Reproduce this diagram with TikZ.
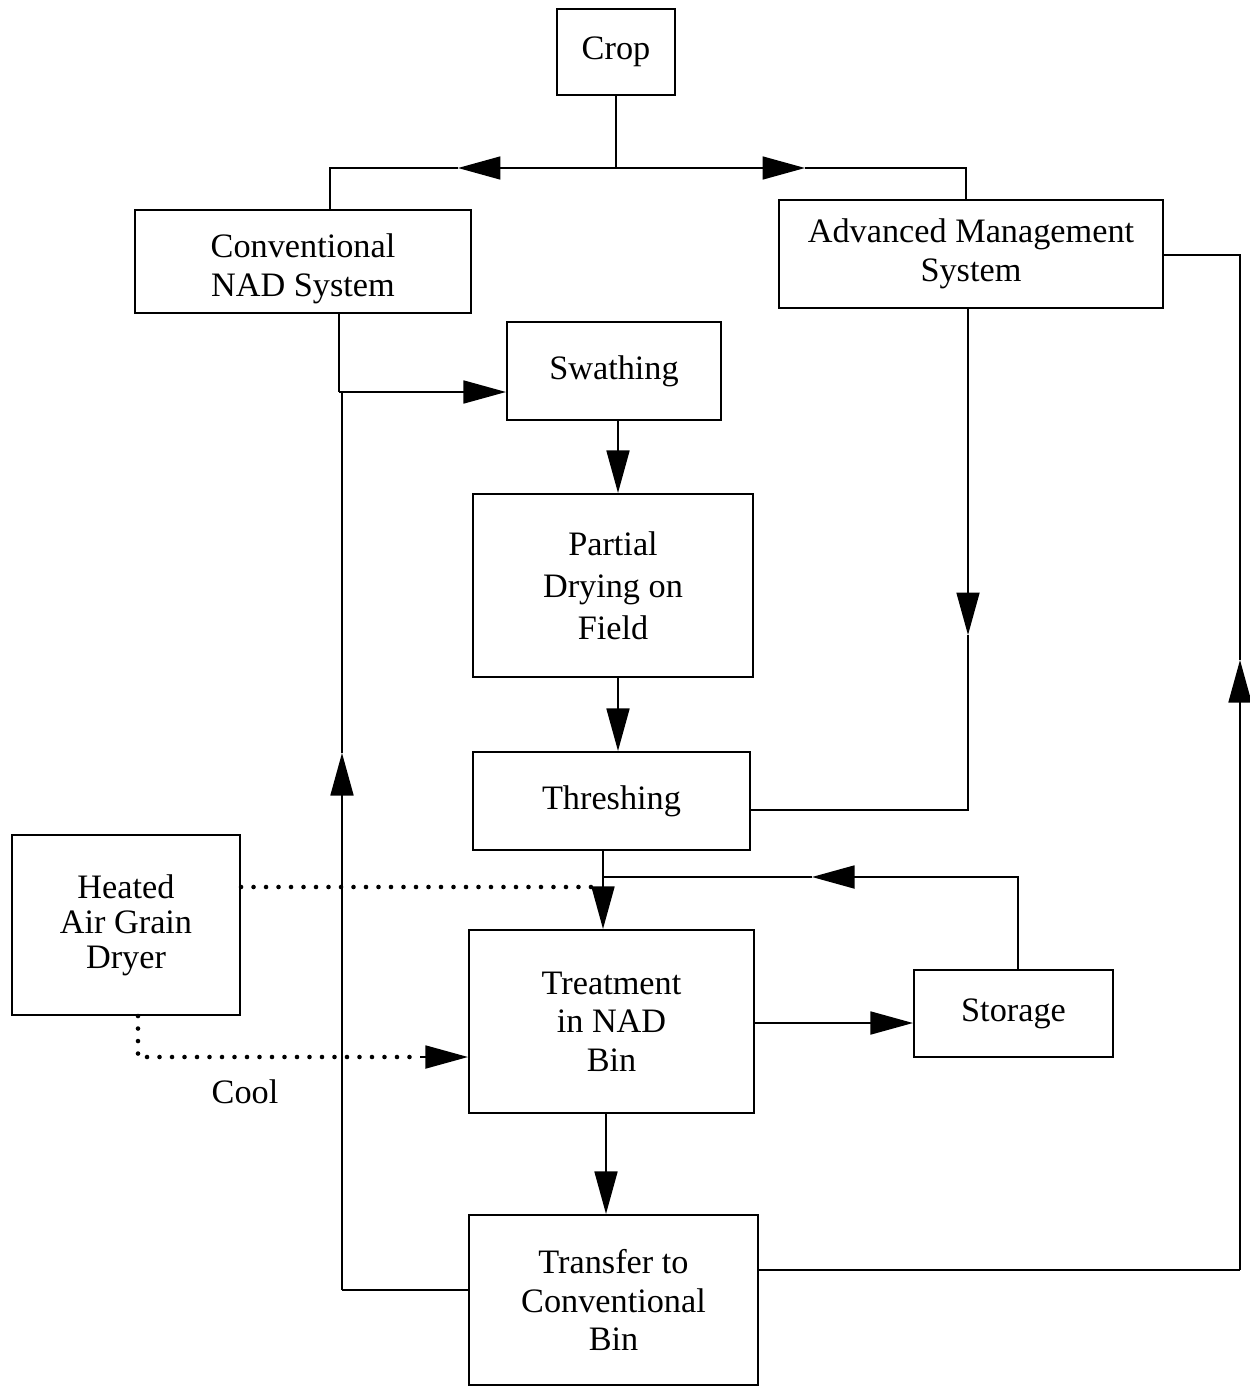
\documentclass[tikz,border=0pt]{standalone}
\usepackage{fontspec}
\setmainfont{Liberation Serif}
\usetikzlibrary{arrows.meta}
\begin{document}
\begin{tikzpicture}[x=0.02cm,y=-0.02cm,
  box/.style={draw, line width=1.2pt, inner sep=0pt, align=center,
    font=\fontsize{19.5}{22}\selectfont},
  conn/.style={line width=1pt},
  arr/.style={conn, -{Triangle[length=0.85cm,width=0.46cm]}},
  dots/.style={line width=2.6pt, line cap=round, dash pattern=on 0pt off 0.25cm}]
\useasboundingbox (0,0) rectangle (1250,1386);
% boxes
\node[box, minimum width=2.36cm, minimum height=1.72cm] (crop) at (616,52) {Crop};
\node[box, minimum width=6.72cm, minimum height=2.06cm] (conv) at (303,261.5) {\raisebox{-0.33cm}[0pt][0pt]{\parbox{6cm}{\centering Conventional\\NAD System}}};
\node[box, minimum width=7.68cm, minimum height=2.16cm] (adv) at (971,254) {Advanced Management\\System};
\node[box, minimum width=4.28cm, minimum height=1.96cm] (swath) at (614,371) {Swathing};
\node[box, minimum width=5.6cm, minimum height=3.66cm, font=\fontsize{19.5}{24}\selectfont] (pdry) at (613,585.5) {Partial\\Drying on\\Field};
\node[box, minimum width=5.54cm, minimum height=1.96cm] (thresh) at (611.5,801) {Threshing};
\node[box, minimum width=4.56cm, minimum height=3.6cm, font=\fontsize{19.5}{20}\selectfont] (dryer) at (126,925) {Heated\\Air Grain\\Dryer};
\node[box, minimum width=5.7cm, minimum height=3.66cm] (treat) at (611.5,1021.5) {Treatment\\in NAD\\Bin};
\node[box, minimum width=3.98cm, minimum height=1.74cm] (storage) at (1013.5,1013.5) {Storage};
\node[box, minimum width=5.78cm, minimum height=3.4cm] (transfer) at (613.5,1300) {Transfer to\\Conventional\\Bin};
\node[font=\fontsize{19.5}{22}\selectfont] (cool) at (245,1092) {Cool};
% crop split
\coordinate (sp) at (616,168);
\coordinate (spL) at (330,168);
\coordinate (spR) at (966,168);
\coordinate (tipL) at (458,168);
\coordinate (tipR) at (805,168);
\draw[conn] (crop.south) -- (sp);
\draw[arr] (sp) -- (tipL);
\draw[conn] (tipL) -- (spL) -- (spL |- conv.north);
\draw[arr] (sp) -- (tipR);
\draw[conn] (tipR) -- (spR) -- (spR |- adv.north);
% conventional to swathing
\coordinate (cj) at (339,392);
\draw[conn] (cj |- conv.south) -- (cj);
\draw[arr] (cj) -- (cj -| swath.west);
% main chain
\coordinate (mx) at (618,0);
\draw[arr] (mx |- swath.south) -- (mx |- pdry.north);
\draw[arr] (mx |- pdry.south) -- (mx |- thresh.north);
% advanced to threshing
\coordinate (ac) at (968,810);
\coordinate (atip) at (968,635);
\draw[arr] (ac |- adv.south) -- (atip);
\draw[conn] (atip) -- (ac) -- (ac -| thresh.east);
% threshing to treatment
\coordinate (tj) at (603,877);
\draw[arr] (tj |- thresh.south) -- (tj |- treat.north);
% storage back
\coordinate (sc) at (1018,877);
\coordinate (stip) at (812,877);
\draw[arr] (sc |- storage.north) -- (sc) -- (stip);
\draw[conn] (stip) -- (tj);
% dryer dotted
\coordinate (dj) at (592,887);
\draw[dots] (dj -| dryer.east) -- (dj);
\coordinate (dc) at (138,1057);
\coordinate (dd) at (420,1057);
\draw[dots] (dc |- dryer.south) -- (dc) -- (dd);
\draw[arr] (dd) -- (dd -| treat.west);
% treatment to storage
\coordinate (ts) at (754,1023);
\draw[arr] (ts -| treat.east) -- (ts -| storage.west);
% treatment to transfer
\coordinate (tt) at (606,1113);
\draw[arr] (tt |- treat.south) -- (tt |- transfer.north);
% transfer back left
\coordinate (lj) at (342,1290);
\coordinate (ltip) at (342,753);
\draw[conn] (lj -| transfer.west) -- (lj);
\draw[arr] (lj) -- (ltip);
\draw[conn] (ltip) -- (ltip |- cj);
% transfer back right
\coordinate (rb) at (1240,1270);
\coordinate (rt) at (1240,255);
\coordinate (rtip) at (1240,660);
\draw[conn] (rb -| transfer.east) -- (rb);
\draw[arr] (rb) -- (rtip);
\draw[conn] (rtip) -- (rt) -- (rt -| adv.east);
\end{tikzpicture}
\end{document}
